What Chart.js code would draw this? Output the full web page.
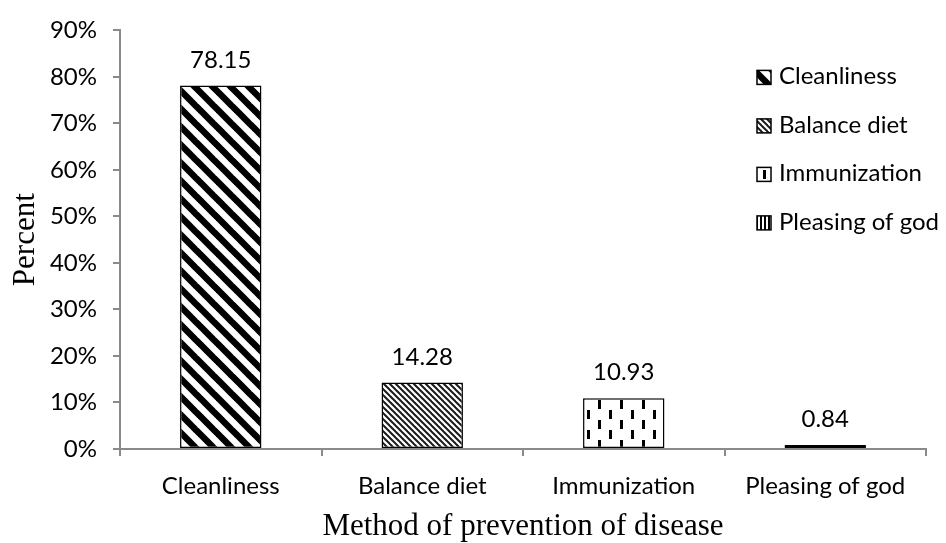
<!DOCTYPE html>
<html>
<head>
<meta charset="utf-8">
<title>Method of prevention of disease</title>
<script src="https://cdn.jsdelivr.net/npm/chart.js@4/dist/chart.umd.min.js"></script>
<style>
  html, body { margin: 0; padding: 0; background: #ffffff; }
  canvas { display: block; }
</style>
</head>
<body>
<canvas id="chart" width="946" height="543"></canvas>
<script>
// Survey answers: how respondents said disease can be prevented
const categories = ['Cleanliness', 'Balance diet', 'Immunization', 'Pleasing of god'];
const percents = [78.15, 14.28, 10.93, 0.84];
const yTickValues = [0, 10, 20, 30, 40, 50, 60, 70, 80, 90];
const yAxisTitle = 'Percent';
const xAxisTitle = 'Method of prevention of disease';

const SANS = 'Lato, "Open Sans", sans-serif';
const SERIF = '"Liberation Serif", "DejaVu Serif", serif';
const SANS_SIZE = 24;
const AXIS_GREY = '#8a8a8a';

const canvas = document.getElementById('chart');
const ctx = canvas.getContext('2d');

// Small repeating tiles for the black-and-white fills
function tile(w, h, paint) {
  const c = document.createElement('canvas');
  c.width = w; c.height = h;
  const g = c.getContext('2d');
  g.fillStyle = '#ffffff';
  g.fillRect(0, 0, w, h);
  g.fillStyle = '#000000';
  g.strokeStyle = '#000000';
  paint(g, w, h);
  return ctx.createPattern(c, 'repeat');
}
function downDiagonal(size, width, colour) {
  return tile(size, size, (g, w) => {
    g.lineWidth = width;
    g.strokeStyle = colour;
    for (const k of [-w, 0, w]) {
      g.beginPath();
      g.moveTo(-2, k - 2);
      g.lineTo(w + 2, k + w + 2);
      g.stroke();
    }
  });
}
const fills = [
  downDiagonal(18, 6.5, '#000000'),                       // wide downward diagonal
  downDiagonal(6, 2, '#1a1a1a'),                          // dark downward diagonal
  tile(22, 20, g => { g.fillRect(4, 0, 3, 9); g.fillRect(15, 10, 3, 9); }), // dashed vertical
  tile(4, 4, g => { g.fillRect(0, 0, 2, 4); })            // dark vertical
];

// Value labels above each bar
const valueLabels = {
  id: 'valueLabels',
  afterDatasetsDraw(chart) {
    const c = chart.ctx;
    const meta = chart.getDatasetMeta(0);
    c.save();
    c.font = `${SANS_SIZE}px ${SANS}`;
    c.fillStyle = '#000000';
    c.textAlign = 'center';
    c.textBaseline = 'alphabetic';
    meta.data.forEach((bar, i) => {
      c.fillText(percents[i].toFixed(2), bar.x, bar.y - 18);
    });
    c.restore();
  }
};

// Legend listing each category with its fill, inside the plot on the right
const sideLegend = {
  id: 'sideLegend',
  afterDraw(chart) {
    const c = chart.ctx;
    const area = chart.chartArea;
    const boxX = area.right - 169;
    const firstBaseline = area.top + 54;
    const step = 48.5;
    const box = 14;
    c.save();
    c.font = `${SANS_SIZE}px ${SANS}`;
    c.textAlign = 'left';
    c.textBaseline = 'alphabetic';
    categories.forEach((name, i) => {
      const base = firstBaseline + i * step;
      c.fillStyle = fills[i];
      c.fillRect(boxX, base - box, box, box);
      c.lineWidth = 1.5;
      c.strokeStyle = '#000000';
      c.strokeRect(boxX, base - box, box, box);
      c.fillStyle = '#000000';
      c.fillText(name, boxX + 22, base);
    });
    c.restore();
  }
};

new Chart(ctx, {
  type: 'bar',
  data: {
    labels: categories,
    datasets: [{
      label: yAxisTitle,
      data: percents,
      backgroundColor: fills,
      borderColor: '#000000',
      borderWidth: 1.5,
      borderSkipped: false,
      categoryPercentage: 1,
      barPercentage: 0.404
    }]
  },
  plugins: [valueLabels, sideLegend],
  options: {
    responsive: false,
    animation: false,
    layout: { padding: { top: 25, right: 20, bottom: 0, left: 0 } },
    plugins: {
      legend: { display: false },
      tooltip: { enabled: false }
    },
    scales: {
      x: {
        afterFit(scale) { scale.height = 94; },
        border: { display: true, color: AXIS_GREY, width: 2 },
        grid: { display: true, drawOnChartArea: false, drawTicks: true, tickLength: 7, color: AXIS_GREY, lineWidth: 2 },
        ticks: { color: '#000000', font: { family: SANS, size: SANS_SIZE }, padding: 16, maxRotation: 0 },
        title: {
          display: true, text: xAxisTitle, color: '#000000',
          font: { family: SERIF, size: 31, lineHeight: 1 },
          padding: { top: 0, bottom: 0.5 }
        }
      },
      y: {
        min: 0,
        max: 90,
        afterFit(scale) { scale.width = 120; },
        afterBuildTicks(scale) { scale.ticks = yTickValues.map(v => ({ value: v })); },
        border: { display: true, color: AXIS_GREY, width: 2 },
        grid: { display: true, drawOnChartArea: false, drawTicks: true, tickLength: 7, color: AXIS_GREY, lineWidth: 2 },
        ticks: {
          color: '#000000',
          font: { family: SANS, size: SANS_SIZE },
          padding: 16,
          callback: v => v + '%'
        },
        title: {
          display: true, text: yAxisTitle, color: '#000000',
          font: { family: SERIF, size: 31, lineHeight: 1 },
          padding: { top: 10, bottom: 0 }
        }
      }
    }
  }
});
</script>
</body>
</html>
